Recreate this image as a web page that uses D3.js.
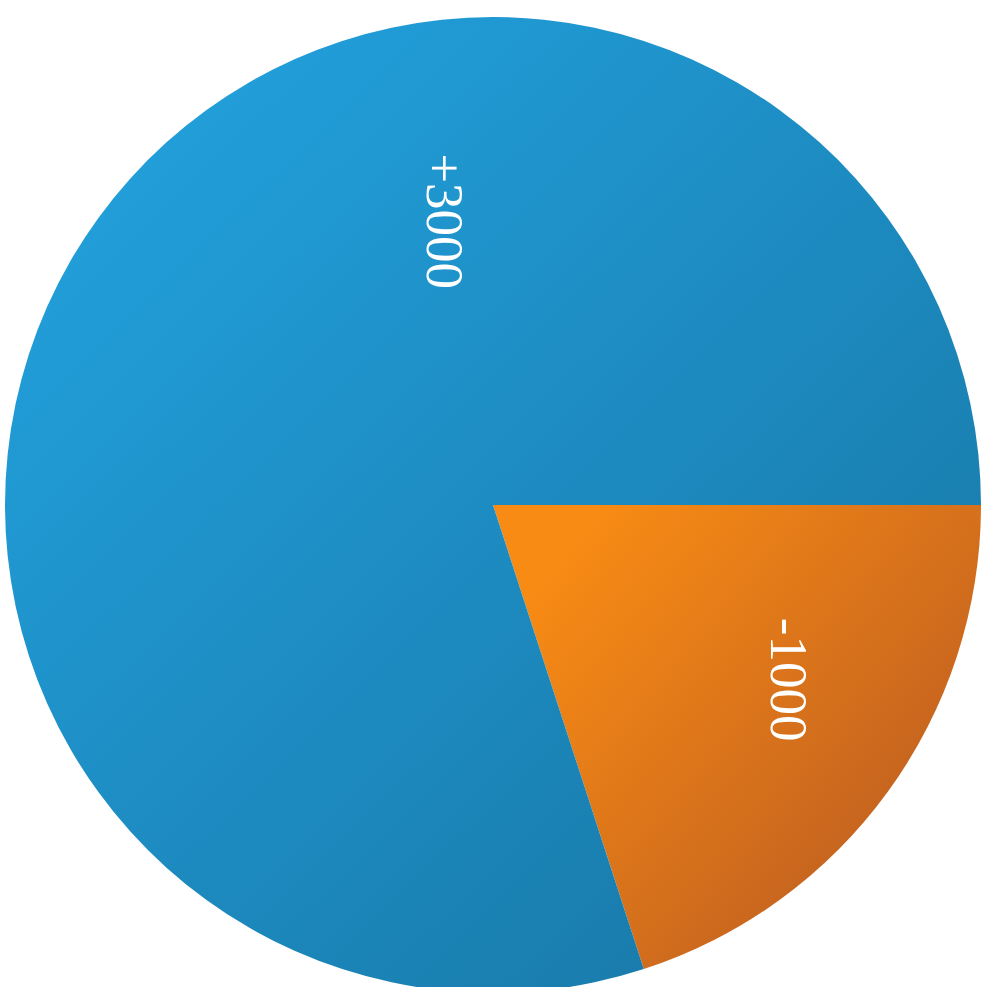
<!DOCTYPE html>
<html>
<head>
<meta charset="utf-8">
<script src="https://cdn.jsdelivr.net/npm/d3@7"></script>
<style>
html,body{margin:0;padding:0;background:#fff;}
svg{display:block;}
</style>
</head>
<body>
<svg id="chart" width="988" height="987"></svg>
<script>
// Data
const categories = ["-1000", "+3000"];
const sliceValues = [1000, 4000];
const sliceLabels = ["-1000", "+3000"];
const sliceColorsLight = ["#f88b14", "#22a0dc"];
const sliceColorsDark = ["#b95a22", "#1877a6"];

const cx = 493, cy = 505, R = 488;

const svg = d3.select("#chart");
const defs = svg.append("defs");

// gradients (coordinates relative to pie centre)
const gradSpecs = [
  {x1: 70, y1: 50, x2: 470, y2: 390},
  {x1: -410, y1: -380, x2: 390, y2: 440}
];
gradSpecs.forEach((g, i) => {
  const lg = defs.append("linearGradient")
    .attr("id", "g" + i)
    .attr("gradientUnits", "userSpaceOnUse")
    .attr("x1", g.x1).attr("y1", g.y1)
    .attr("x2", g.x2).attr("y2", g.y2);
  lg.append("stop").attr("offset", "0%").attr("stop-color", sliceColorsLight[i]);
  lg.append("stop").attr("offset", "100%").attr("stop-color", sliceColorsDark[i]);
});

const pie = d3.pie()
  .sort(null)
  .value(d => d.value)
  .startAngle(Math.PI / 2)
  .endAngle(Math.PI / 2 + 2 * Math.PI);

const data = categories.map((c, i) => ({name: c, value: sliceValues[i], label: sliceLabels[i]}));
const arcs = pie(data);
const arc = d3.arc().innerRadius(0).outerRadius(R);

const g = svg.append("g").attr("transform", `translate(${cx},${cy})`);

g.selectAll("path.slice")
  .data(arcs)
  .join("path")
  .attr("class", "slice")
  .attr("d", arc)
  .attr("fill", (d, i) => `url(#g${i})`);

// Label placement (polar, relative to pie centre)
const labelPolar = [
  {angle: 120.5, r: 0.705},
  {angle: -9.6, r: 0.59}
];
g.selectAll("text.lbl")
  .data(arcs)
  .join("text")
  .attr("class", "lbl")
  .attr("transform", (d, i) => {
    const a = labelPolar[i].angle * Math.PI / 180;
    const rr = labelPolar[i].r * R;
    return `translate(${rr * Math.sin(a)},${-rr * Math.cos(a)}) rotate(90)`;
  })
  .attr("text-anchor", "middle")
  .attr("dominant-baseline", "central")
  .attr("fill", "#ffffff")
  .attr("font-family", "'Liberation Serif', 'DejaVu Serif', serif")
  .attr("font-size", 53)
  .text(d => d.data.label);
</script>
</body>
</html>
